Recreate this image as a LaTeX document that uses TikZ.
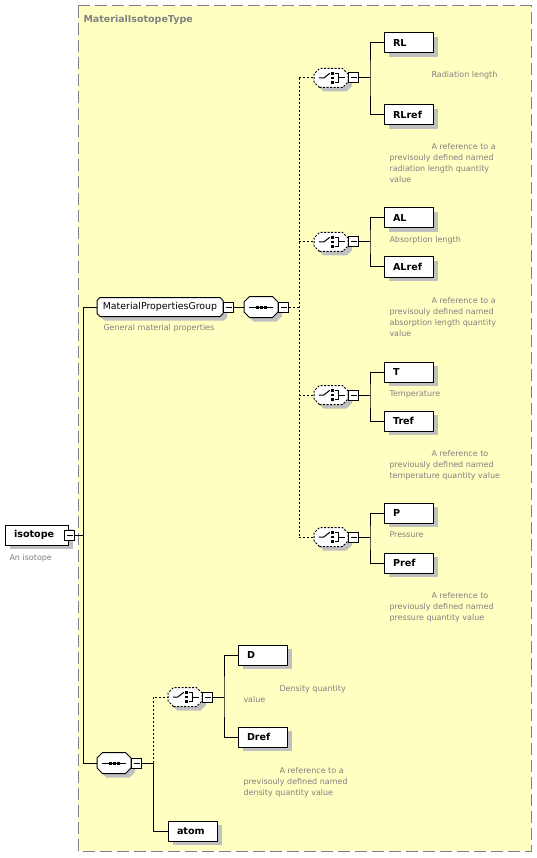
\documentclass[tikz,border=0pt]{standalone}
\usepackage{fontspec}
\setmainfont{DejaVu Sans}
\usepackage{tikz}
\usetikzlibrary{positioning, shadows}

\definecolor{typefill}{RGB}{255,255,194}
\definecolor{typeline}{RGB}{128,128,128}
\definecolor{descgrey}{RGB}{128,128,128}
\definecolor{shadowgrey}{RGB}{192,192,192}

% box with cut corners, for groups and compositors
\makeatletter
\newdimen\cutL \newdimen\cutR \newdimen\cutB \newdimen\cutT \newdimen\cutC
\pgfkeys{/pgf/cut corner/.initial=3pt}
\pgfdeclareshape{cut box}{
  \inheritsavedanchors[from=rectangle]
  \inheritanchorborder[from=rectangle]
  \inheritanchor[from=rectangle]{center}
  \inheritanchor[from=rectangle]{mid}
  \inheritanchor[from=rectangle]{base}
  \inheritanchor[from=rectangle]{north}
  \inheritanchor[from=rectangle]{south}
  \inheritanchor[from=rectangle]{east}
  \inheritanchor[from=rectangle]{west}
  \inheritanchor[from=rectangle]{north east}
  \inheritanchor[from=rectangle]{north west}
  \inheritanchor[from=rectangle]{south east}
  \inheritanchor[from=rectangle]{south west}
  \inheritanchor[from=rectangle]{mid east}
  \inheritanchor[from=rectangle]{mid west}
  \backgroundpath{%
    \pgfmathsetlength\cutC{\pgfkeysvalueof{/pgf/cut corner}}%
    \southwest \cutL=\pgf@x \cutB=\pgf@y
    \northeast \cutR=\pgf@x \cutT=\pgf@y
    \pgfpathmoveto{\pgfqpoint{\dimexpr\cutL+\cutC}{\cutB}}%
    \pgfpathlineto{\pgfqpoint{\dimexpr\cutR-\cutC}{\cutB}}%
    \pgfpathlineto{\pgfqpoint{\cutR}{\dimexpr\cutB+\cutC}}%
    \pgfpathlineto{\pgfqpoint{\cutR}{\dimexpr\cutT-\cutC}}%
    \pgfpathlineto{\pgfqpoint{\dimexpr\cutR-\cutC}{\cutT}}%
    \pgfpathlineto{\pgfqpoint{\dimexpr\cutL+\cutC}{\cutT}}%
    \pgfpathlineto{\pgfqpoint{\cutL}{\dimexpr\cutT-\cutC}}%
    \pgfpathlineto{\pgfqpoint{\cutL}{\dimexpr\cutB+\cutC}}%
    \pgfpathclose
  }
}
\makeatother

% compositor symbols, drawn on top of a compositor node
\newcommand{\seqmark}[1]{%
  \begin{scope}[shift={(#1.center)}, x=1pt, y=1pt]
    \draw (-12,0) -- (12,0);
    \foreach \dx in {-4,0,4}
      \fill (\dx,0) +(-1.5,-1.5) rectangle +(1.5,1.5);
  \end{scope}}
\newcommand{\choicemark}[1]{%
  \begin{scope}[shift={(#1.center)}, x=1pt, y=1pt]
    \draw (-12.2,0) -- (-7.2,0) -- (-1.2,4.7);
    \foreach \dy in {-4.7,0,4.7}
      \fill (1.2,\dy) +(-1.3,-1.3) rectangle +(1.3,1.3);
    \draw (3.8,4.7) -- (7.8,4.7) -- (7.8,-4.7) -- (3.8,-4.7) (7.8,0) -- (13.5,0);
  \end{scope}}

\begin{document}
\begin{tikzpicture}[
    x=1pt, y=-1pt, line width=1pt,
    shadowed/.style={drop shadow={shadow xshift=4pt, shadow yshift=-4pt,
                     fill=shadowgrey, opacity=1}},
    elem/.style={rectangle, draw=black, fill=white, shadowed, anchor=west,
                 minimum height=20pt, inner xsep=8.5pt, inner ysep=0pt,
                 text width=32pt, align=left, font=\fontsize{9.6}{11}\selectfont\bfseries},
    group/.style={cut box, cut corner=3pt, draw=black, fill=white, shadowed,
                  anchor=west, outer sep=0pt, minimum width=126pt,
                  minimum height=19pt, inner xsep=2pt, inner ysep=0pt,
                  font=\fontsize{9.4}{11}\selectfont},
    seqbox/.style={cut box, cut corner=5.5pt, draw=black, fill=white, shadowed,
                   anchor=west, outer sep=0pt, minimum width=34pt,
                   minimum height=21pt, inner sep=0pt},
    choicebox/.style={seqbox, dash pattern=on 2pt off 1.5pt, minimum height=19pt},
    minus/.style={rectangle, draw=black, fill=white, minimum size=10pt, inner sep=0pt,
                  path picture={\draw ([xshift=2pt]path picture bounding box.west)
                                -- ([xshift=-2pt]path picture bounding box.east);}},
    desc/.style={anchor=base west, inner sep=0pt, align=left, text=descgrey,
                 font=\fontsize{8}{11}\selectfont},
    optwire/.style={dash pattern=on 2pt off 2pt}
]
% complex type frame
\fill[white] (0,0) rectangle (537,858);
\draw[typeline, fill=typefill, dash pattern=on 12pt off 5pt] (78,6) rectangle (531,851);
\node[anchor=west, inner sep=0pt, text=typeline, font=\fontsize{9.5}{11}\selectfont\bfseries]
    (typeName) at (83,19.5) {MaterialIsotopeType};

% root element
\node[elem, text width=46pt] (iso) at (5,535) {isotope};
\node[minus, right=-5pt of iso] (mIso) {};
\node[desc] (isoDesc) at (9,560) {An isotope};

% properties group
\node[group] (mpg) at (97,307) {MaterialPropertiesGroup};
\node[minus, right=0pt of mpg] (mMpg) {};
\node[desc] (mpgDesc) at (103,330) {General material properties};
\node[seqbox] (seqA) at (244,307) {};
\node[minus, right=0pt of seqA] (mSeqA) {};

% choices (descriptions placed by the baseline of their last line)
\node[choicebox] (chRL) at (314,78) {};
\node[minus, right=0pt of chRL] (mRL) {};
\node[elem] (RL) at (384,43) {RL};
\node[elem] (RLref) at (384,115) {RLref};
\node[desc] (RLDesc) at (431,78) {Radiation length};
\node[desc] (RLrefDesc) at (389,182.5) {\hspace*{42pt}A reference to a\\previsouly defined named\\radiation length quantity\\value};

\node[choicebox] (chAL) at (314,242) {};
\node[minus, right=0pt of chAL] (mAL) {};
\node[elem] (AL) at (384,218) {AL};
\node[elem] (ALref) at (384,267) {ALref};
\node[desc] (ALDesc) at (389,243) {Absorption length};
\node[desc] (ALrefDesc) at (389,336) {\hspace*{42pt}A reference to a\\previsouly defined named\\absorption length quantity\\value};

\node[choicebox] (chT) at (314,395) {};
\node[minus, right=0pt of chT] (mT) {};
\node[elem] (T) at (384,372) {T};
\node[elem] (Tref) at (384,421) {Tref};
\node[desc] (TDesc) at (389,396) {Temperature};
\node[desc] (TrefDesc) at (389,478) {\hspace*{42pt}A reference to\\previously defined named\\temperature quantity value};

\node[choicebox] (chP) at (314,537) {};
\node[minus, right=0pt of chP] (mP) {};
\node[elem] (P) at (384,513) {P};
\node[elem] (Pref) at (384,563) {Pref};
\node[desc] (PDesc) at (389,537) {Pressure};
\node[desc] (PrefDesc) at (389,620) {\hspace*{42pt}A reference to\\previously defined named\\pressure quantity value};

% density and atom
\node[seqbox] (seqB) at (97,763) {};
\node[minus, right=0pt of seqB] (mSeqB) {};
\node[choicebox] (chD) at (168,697) {};
\node[minus, right=0pt of chD] (mD) {};
\node[elem] (D) at (238,655) {D};
\node[elem] (Dref) at (238,737) {Dref};
\node[desc] (DDesc) at (243,702) {\hspace*{36pt}Density quantity\\value};
\node[desc] (DrefDesc) at (243,795) {\hspace*{36pt}A reference to a\\previsouly defined named\\density quantity value};
\node[elem] (atom) at (168,831) {atom};

\seqmark{seqA}
\seqmark{seqB}
\foreach \ch in {chRL, chAL, chT, chP, chD} {
  \choicemark{\ch}
}

% connectors
\coordinate (isoJ) at (83,535);
\draw (mIso) -- (isoJ);
\draw (mpg.west) -- (mpg.west -| isoJ) -- (seqB.west -| isoJ) -- (seqB.west);
\draw (mMpg) -- (seqA);
\coordinate (seqAJ) at (299,307);
\draw[optwire] (mSeqA) -- (seqAJ);
\draw[optwire] (chRL.west -| seqAJ) -- (chP.west -| seqAJ);
\foreach \ch in {chRL, chAL, chT, chP}
  \draw[optwire] (\ch.west -| seqAJ) -- (\ch.west);
\foreach \a/\b in {RL/RLref, AL/ALref, T/Tref, P/Pref, D/Dref} {
  \draw (m\a.east) -- ++(11pt,0) coordinate (j\a);
  \draw (\a.west) -| (j\a) |- (\b.west);
}
\coordinate (seqBJ) at (153,763);
\draw (mSeqB) -- (seqBJ) |- (atom.west);
\draw[optwire] (seqBJ) |- (chD.west);
\end{tikzpicture}
\end{document}
